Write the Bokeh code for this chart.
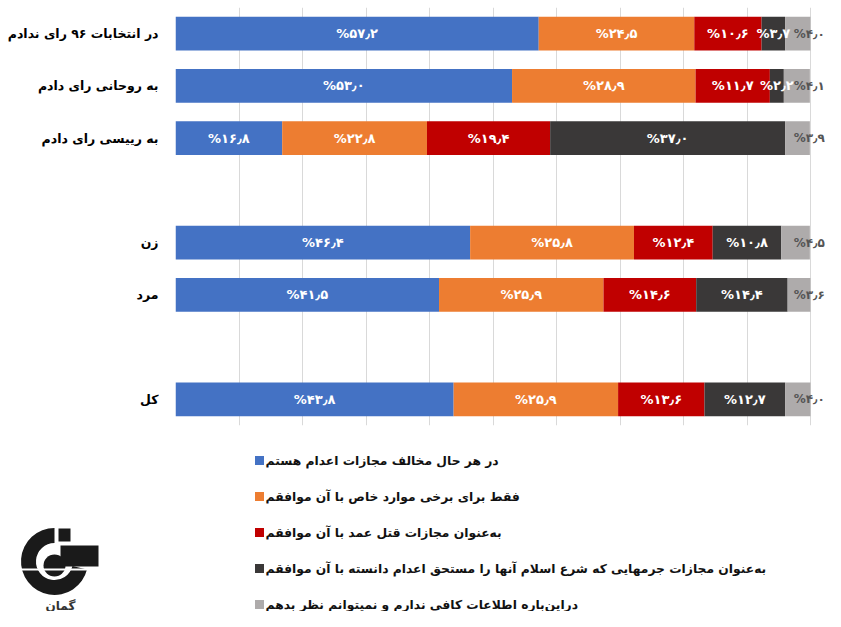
import math
from bokeh.plotting import figure
from bokeh.models import ColumnDataSource, FactorRange, Range1d, FixedTicker
from bokeh.layouts import column
from bokeh.embed import file_html
from bokeh.resources import INLINE
from bokeh.core.properties import value

# ---------------- data ----------------
categories = ["در انتخابات ۹۶ رای ندادم", "به روحانی رای دادم", "به رییسی رای دادم", "زن", "مرد", "کل"]
row_order = ["در انتخابات ۹۶ رای ندادم", "به روحانی رای دادم", "به رییسی رای دادم", " ",
             "زن", "مرد", "  ", "کل"]
series_names = [
    "در هر حال مخالف مجازات اعدام هستم",
    "فقط برای برخی موارد خاص با آن موافقم",
    "به‌عنوان مجازات قتل عمد با آن موافقم",
    "به‌عنوان مجازات جرمهایی که شرع اسلام آنها را مستحق اعدام دانسته با آن موافقم",
    "دراین‌باره اطلاعات کافی ندارم و نمیتوانم نظر بدهم",
]
colors = ["#4472C4", "#ED7D31", "#C00000", "#3A3838", "#AEABAB"]
oppose_always = [57.2, 53.0, 16.8, 46.4, 41.5, 43.8]
special_cases = [24.5, 28.9, 22.8, 25.8, 25.9, 25.9]
murder_only = [10.6, 11.7, 19.4, 12.4, 14.6, 13.6]
sharia_crimes = [3.7, 2.2, 37.0, 10.8, 14.4, 12.7]
no_opinion = [4.0, 4.1, 3.9, 4.5, 3.6, 4.0]
x_ticks = [0, 10, 20, 30, 40, 50, 60, 70, 80, 90, 100]
logo_text = "گمان"

series = [oppose_always, special_cases, murder_only, sharia_crimes, no_opinion]
keys = ["s0", "s1", "s2", "s3", "s4"]

FONT = "DejaVu Sans"
TOTAL_W = 825
BORDER_L = 175
FRAME_W = TOTAL_W - BORDER_L
FRAME_H = 418
PX_PER_10 = 63.5
x_end = FRAME_W / (PX_PER_10 / 10.0)

fa_map = str.maketrans("0123456789.", "۰۱۲۳۴۵۶۷۸۹٫")


def fa_pct(v):
    return "%" + f"{v:.1f}".translate(fa_map)


# ---------------- chart ----------------
p = figure(
    y_range=FactorRange(factors=row_order[::-1], range_padding=0),
    x_range=Range1d(0, x_end),
    frame_width=FRAME_W, frame_height=FRAME_H,
    min_border_left=BORDER_L, min_border_right=0, min_border_top=7, min_border_bottom=5,
    output_backend="svg", toolbar_location=None,
)
p.frame_align = False
p.background_fill_color = "white"
p.border_fill_color = "white"
p.outline_line_color = None

data = {"cat": categories}
for k, s in zip(keys, series):
    data[k] = s
source = ColumnDataSource(data)
p.hbar_stack(keys, y="cat", height=0.65, color=colors, line_color=None, source=source)

# labels inside the segments
lx, ly, lt = [], [], []
gx, gy, gt = [], [], []
for j, cat in enumerate(categories):
    left = 0.0
    for i, s in enumerate(series):
        w = s[j]
        if i == len(series) - 1:
            gx.append(x_end - 0.1)
            gy.append(cat)
            gt.append(fa_pct(w))
        else:
            x = left + w / 2
            if w < 5:
                x = min(x, 100 - 5.2)
            lx.append(x)
            ly.append(cat)
            lt.append(fa_pct(w))
        left += w
lsrc = ColumnDataSource(dict(x=lx, y=ly, t=lt))
p.text(x="x", y="y", text="t", source=lsrc, text_color="white",
       text_align="center", text_baseline="middle",
       text_font=value(FONT), text_font_size="13px", text_font_style="bold")
gsrc = ColumnDataSource(dict(x=gx, y=gy, t=gt))
p.text(x="x", y="y", text="t", source=gsrc, text_color="#555555",
       text_align="right", text_baseline="middle",
       text_font=value(FONT), text_font_size="12px", text_font_style="bold")

p.xaxis.visible = False
p.xgrid.ticker = FixedTicker(ticks=x_ticks)
p.xgrid.grid_line_color = "#D9D9D9"
p.xgrid.grid_line_width = 1
p.ygrid.grid_line_color = None

p.yaxis.axis_line_color = None
p.yaxis.major_tick_line_color = None
p.yaxis.minor_tick_line_color = None
p.yaxis.major_tick_out = 0
p.yaxis.major_tick_in = 0
p.yaxis.major_label_standoff = 17
p.yaxis.major_label_text_font = FONT
p.yaxis.major_label_text_font_size = "12.5px"
p.yaxis.major_label_text_font_style = "bold"
p.yaxis.major_label_text_color = "#000000"

# ---------------- legend + logo ----------------
L_W, L_H = TOTAL_W, 181
p2 = figure(frame_width=L_W, frame_height=L_H, x_range=Range1d(0, L_W), y_range=Range1d(0, L_H),
            x_axis_type=None, y_axis_type=None, min_border=0,
            output_backend="svg", toolbar_location=None)
p2.frame_align = False
p2.outline_line_color = None
p2.xgrid.grid_line_color = None
p2.ygrid.grid_line_color = None

step = 36.0
y0 = L_H - 30
ys = [y0 - i * step for i in range(len(series_names))]
p2.rect(x=[259] * len(ys), y=ys, width=9, height=9, color=colors, line_color=None)
p2.text(x=[265] * len(ys), y=ys, text=series_names, text_align="left", text_baseline="middle",
        text_font=value(FONT), text_font_size="12.3px", text_font_style="bold", text_color="#111111")

# logo
cx, cy = 54, 50
ink = "#1a1a1a"
p2.annular_wedge(x=[cx], y=[cy], inner_radius=18.5, outer_radius=33.5,
                 start_angle=math.radians(90), end_angle=math.radians(346),
                 color=ink, line_color=None)
p2.circle(x=[cx], y=[cy - 4], radius=11, color=ink, line_color=None)
p2.quad(left=[58, 60], right=[70, 98], bottom=[70, 45], top=[83, 66], color=ink, line_color=None)
p2.segment(x0=[18, 58], y0=[42, 68], x1=[100, 72], y1=[42, 68], line_color="white", line_width=2)
p2.text(x=[60], y=[6], text=[logo_text], text_align="center", text_baseline="middle",
        text_font=value(FONT), text_font_size="12px", text_font_style="bold", text_color="#333333")

layout = column(p, p2, spacing=0)
open("out.html", "w").write(file_html(layout, INLINE))
